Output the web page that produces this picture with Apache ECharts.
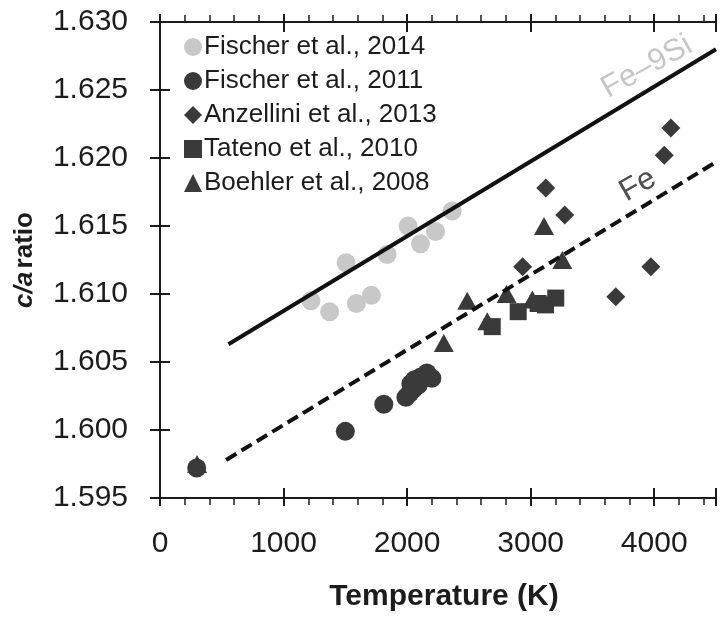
<!DOCTYPE html>
<html>
<head>
<meta charset="utf-8">
<script src="https://cdn.jsdelivr.net/npm/echarts@6/dist/echarts.min.js"></script>
<style>
  html, body { margin: 0; padding: 0; background: #fff; }
  #chart { width: 720px; height: 617px; }
</style>
</head>
<body>
<div id="chart"></div>
<script>
// data: [temperature K, c/a]
var fischer2014 = [[1222,1.6095],[1373,1.6087],[1506,1.6123],[1589,1.6093],[1711,1.6099],
                   [1838,1.6129],[2008,1.6150],[2108,1.6137],[2230,1.6146],[2365,1.6161]]
var fischer2011 = [[297,1.5972],[1500,1.5999],[1811,1.6019],[1990,1.6024],[2020,1.6027],
                   [2050,1.6030],[2030,1.6034],[2090,1.6033],[2110,1.6039],[2160,1.6042],
                   [2200,1.6038],[2060,1.6037]]
var anzellini2013 = [[2935,1.6120],[3122,1.6178],[3276,1.6158],[3689,1.6098],[3973,1.6120],
                     [4081,1.6202],[4135,1.6222]]
var tateno2010 = [[2689,1.6076],[2899,1.6087],[3060,1.6093],[3120,1.6092],[3203,1.6097]]
var boehler2008 = [[300,1.5975],[2297,1.6064],[2487,1.6095],[2649,1.6080],[2805,1.6100],
                   [3014,1.6096],[3108,1.6150],[3256,1.6125]]

// fitted trends
var feSiLine = [[554,1.6063],[4500,1.6280]]
var feLine = [[535,1.5978],[4500,1.6197]]

var seriesNames = ['Fischer et al., 2014','Fischer et al., 2011','Anzellini et al., 2013',
                   'Tateno et al., 2010','Boehler et al., 2008']

var xTicks = {min: 0, max: 4500, interval: 1000}
var yTicks = {min: 1.595, max: 1.630, interval: 0.005}

var FONT = '"Liberation Sans", Arial, sans-serif'
var DARK = '#3a3a3a'
var LIGHT = '#c8c8c8'
var AX = '#1a1a1a'
var TXT = '#1c1c1c'

function xAx(pos, inside, withLabel) {
    return {
        type: 'value', position: pos,
        min: xTicks.min, max: xTicks.max, interval: xTicks.interval,
        axisLine: {show: true, lineStyle: {color: AX, width: 2}},
        axisTick: {show: true, inside: inside, length: inside ? 10 : 8, lineStyle: {color: AX, width: 2}},
        minorTick: {show: !inside, splitNumber: 5, length: 7, lineStyle: {color: AX, width: 1.5}},
        splitLine: {show: false},
        axisLabel: {show: withLabel, fontSize: 30, color: TXT, fontFamily: FONT, margin: 31, showMaxLabel: false,
            formatter: function (v) { return String(v) }},
        name: withLabel ? 'Temperature (K)' : '',
        nameLocation: 'middle', nameGap: 84,
        nameTextStyle: {fontSize: 30, fontWeight: 'bold', color: TXT, fontFamily: FONT, padding: [0, 0, 0, 12]}
    }
}

function yAx(pos, inside, withLabel) {
    return {
        type: 'value', position: pos,
        min: yTicks.min, max: yTicks.max, interval: yTicks.interval,
        axisLine: {show: true, lineStyle: {color: AX, width: 2}},
        axisTick: {show: true, inside: inside, length: inside ? 10 : 8, lineStyle: {color: AX, width: 2}},
        splitLine: {show: false},
        axisLabel: {show: withLabel, fontSize: 30, color: TXT, fontFamily: FONT, margin: 32,
            formatter: function (v) { return v.toFixed(3) }},
        name: withLabel ? '{i|c/a} {b|ratio}' : '',
        nameLocation: 'middle', nameGap: 122, nameRotate: 90,
        nameTextStyle: {
            rich: {
                i: {fontSize: 26, fontWeight: 'bold', fontStyle: 'italic', color: TXT, fontFamily: FONT},
                b: {fontSize: 26, fontWeight: 'bold', color: TXT, fontFamily: FONT}
            }
        }
    }
}

function pts(name, data, symbol, size, color) {
    return {
        name: name, type: 'scatter', data: data, symbol: symbol, symbolSize: size,
        itemStyle: {color: color, opacity: 1}
    }
}

function note(pos, text, color, rot) {
    return {
        type: 'scatter', data: [pos], symbolSize: 0, silent: true,
        label: {show: true, position: 'inside', formatter: text, rotate: rot,
            fontSize: 31, color: color, fontFamily: FONT}
    }
}

var option = {
    animation: false,
    backgroundColor: '#fff',
    grid: {left: 160, right: 4, top: 22, bottom: 119},
    legend: {
        data: seriesNames, orient: 'vertical', left: 179, top: 28,
        itemWidth: 18, itemHeight: 18, itemGap: 6,
        textStyle: {fontSize: 26, color: TXT, fontFamily: FONT, lineHeight: 28, padding: [0, 0, 0, -3]}
    },
    xAxis: [xAx('bottom', false, true), xAx('bottom', true, false), xAx('top', false, false), xAx('top', true, false)],
    yAxis: [yAx('left', false, true), yAx('left', true, false), yAx('right', true, false)],
    series: [
        {type: 'line', data: feSiLine, symbol: 'none', silent: true,
            lineStyle: {color: '#111', width: 4}},
        {type: 'line', data: feLine, symbol: 'none', silent: true,
            lineStyle: {color: '#111', width: 4, type: [12, 6]}},
        pts(seriesNames[0], fischer2014, 'circle', 19, LIGHT),
        pts(seriesNames[4], boehler2008, 'triangle', [20, 18], DARK),
        pts(seriesNames[2], anzellini2013, 'diamond', [19, 19], DARK),
        pts(seriesNames[3], tateno2010, 'rect', 17, DARK),
        pts(seriesNames[1], fischer2011, 'circle', 19, DARK),
        note([3941, 1.6267], 'Fe–9Si', '#b8b8b8', 29),
        note([3868, 1.6180], 'Fe', '#222', 30)
    ]
}

var chart = echarts.init(document.getElementById('chart'))
chart.setOption(option)
</script>
</body>
</html>
